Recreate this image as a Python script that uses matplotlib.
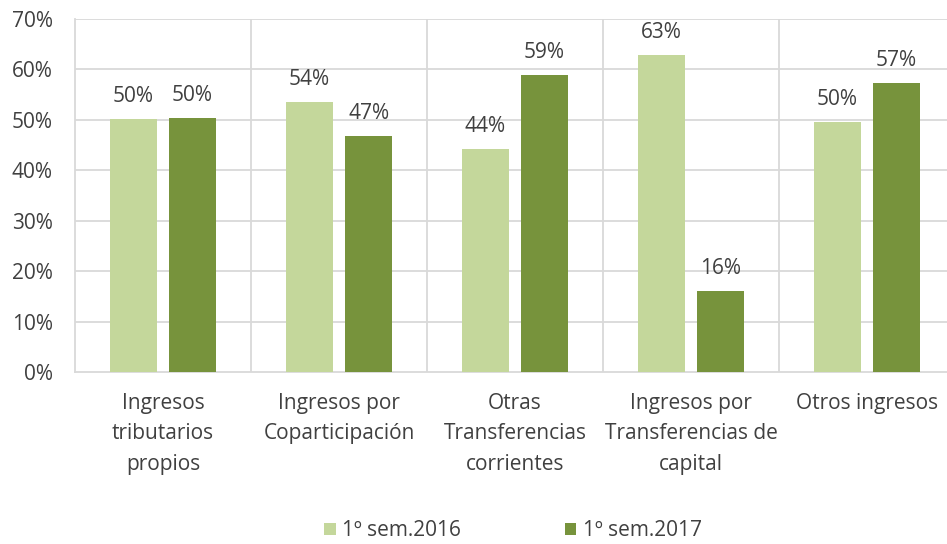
import matplotlib
matplotlib.use("Agg")
import matplotlib.pyplot as plt
import numpy as np
from matplotlib.ticker import FuncFormatter

categories = ["Ingresos\ntributarios\npropios", "Ingresos por\nCoparticipación",
              "Otras\nTransferencias\ncorrientes", "Ingresos por\nTransferencias de\ncapital",
              "Otros ingresos"]
s2016 = [50.2, 53.6, 44.2, 62.9, 49.6]
s2017 = [50.4, 46.8, 58.9, 16.1, 57.3]
labels2016 = ["50%", "54%", "44%", "63%", "50%"]
labels2017 = ["50%", "47%", "59%", "16%", "57%"]
series_names = ["1º sem.2016", "1º sem.2017"]

plt.rcParams['font.family'] = ['Open Sans', 'DejaVu Sans']
txt = '#404040'
c1 = '#c4d79b'
c2 = '#77933c'
grid = '#d9d9d9'
fs = 15

fig = plt.figure(figsize=(9.47, 5.44), dpi=100)
W, H = 947, 544
left, right, top, bottom = 75, 955, 19, 372
ax = fig.add_axes([left / W, 1 - bottom / H, (right - left) / W, (bottom - top) / H])

x = np.arange(len(categories))
bw = 0.267
off = 0.168
b1 = ax.bar(x - off, s2016, bw, color=c1, label=series_names[0], zorder=3)
b2 = ax.bar(x + off, s2017, bw, color=c2, label=series_names[1], zorder=3)
for rect, lab in zip(b1, labels2016):
    ax.text(rect.get_x() + rect.get_width() / 2, rect.get_height() + 2.4, lab,
            ha='center', va='bottom', fontsize=fs, color=txt)
for rect, lab in zip(b2, labels2017):
    ax.text(rect.get_x() + rect.get_width() / 2, rect.get_height() + 2.4, lab,
            ha='center', va='bottom', fontsize=fs, color=txt)

ax.set_xlim(-0.5, len(categories) - 0.5)
ax.set_ylim(0, 70)
ax.set_yticks(np.arange(0, 71, 10))
ax.yaxis.set_major_formatter(FuncFormatter(lambda v, p: f"{int(v)}%"))
ax.set_xticks(x)
ax.set_xticklabels(categories, fontsize=fs, color=txt, linespacing=1.6)
ax.tick_params(axis='y', labelsize=fs, labelcolor=txt, length=0, pad=16)
ax.tick_params(axis='x', length=0, pad=15)
for yv in np.arange(10, 71, 10):
    ax.axhline(yv, color=grid, lw=1.3, zorder=1)
for xv in np.arange(0.5, len(categories), 1):
    ax.axvline(xv, color=grid, lw=1.3, zorder=1)
for s in ['top', 'right']:
    ax.spines[s].set_visible(False)
ax.spines['left'].set_color(grid)
ax.spines['left'].set_linewidth(1.3)
ax.spines['bottom'].set_color(grid)
ax.spines['bottom'].set_linewidth(1.3)

leg = fig.legend(handles=[b1, b2], loc='center', bbox_to_anchor=(513 / W, 1 - 531 / H),
                 ncol=2, frameon=False, fontsize=fs, handlelength=0.55, handleheight=0.55,
                 columnspacing=5.0, handletextpad=0.3)
for t in leg.get_texts():
    t.set_color(txt)

fig.savefig("out.png", dpi=100)
